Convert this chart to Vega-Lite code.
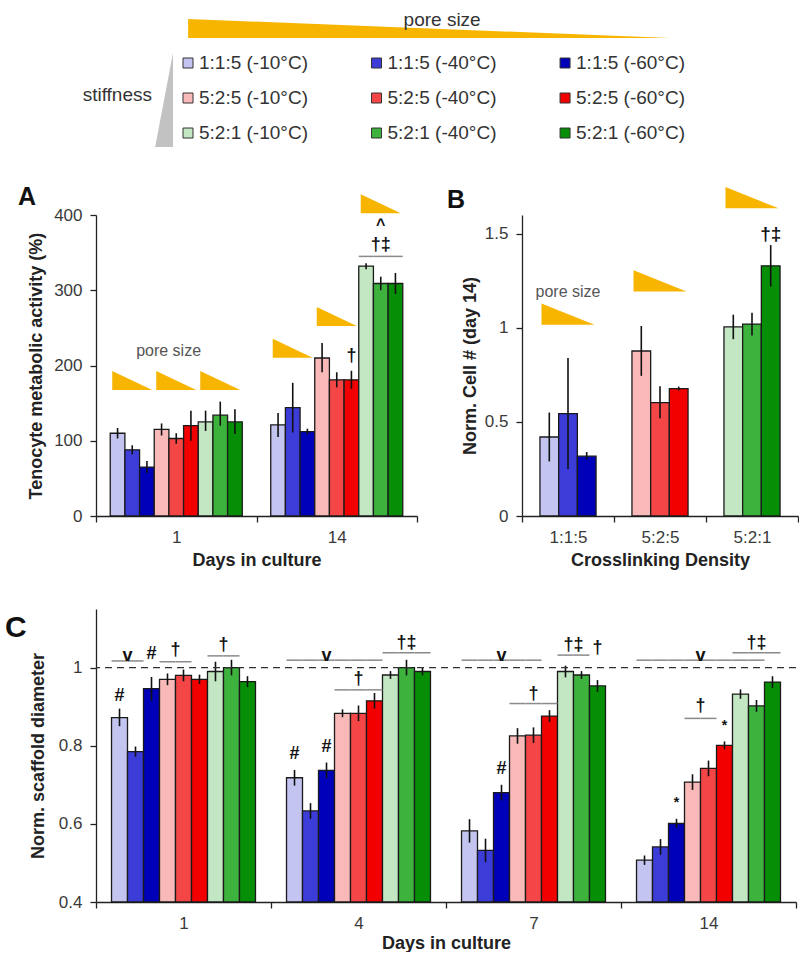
{
"$schema": "https://vega.github.io/schema/vega-lite/v6.json",
"padding": {"left": 5, "top": 0, "right": 0, "bottom": 0},
"background": "white",
"bounds": "flush",
"spacing": 90,
"config": {
  "view": {"stroke": null},
  "font": "Liberation Sans",
  "axis": {"domainColor": "#222", "domainWidth": 1.3, "tickColor": "#222", "tickWidth": 1.3, "tickSize": 6, "labelFont": "Liberation Sans", "labelFontSize": 17, "labelColor": "#3a3a3a", "titleFont": "Liberation Sans", "titleFontSize": 18, "titleFontWeight": "bold", "titleColor": "#222", "grid": false},
  "title": {"anchor": "start", "frame": "group", "offset": 0, "font": "Liberation Sans", "fontWeight": "bold", "color": "#111", "fontSize": 25}
},
"datasets": {
  "legend": [
    {"cond": "1:1:5 (-10°C)", "pore": 0, "stiff": 0},
    {"cond": "1:1:5 (-40°C)", "pore": 1, "stiff": 0},
    {"cond": "1:1:5 (-60°C)", "pore": 2, "stiff": 0},
    {"cond": "5:2:5 (-10°C)", "pore": 0, "stiff": 1},
    {"cond": "5:2:5 (-40°C)", "pore": 1, "stiff": 1},
    {"cond": "5:2:5 (-60°C)", "pore": 2, "stiff": 1},
    {"cond": "5:2:1 (-10°C)", "pore": 0, "stiff": 2},
    {"cond": "5:2:1 (-40°C)", "pore": 1, "stiff": 2},
    {"cond": "5:2:1 (-60°C)", "pore": 2, "stiff": 2}
  ],
  "A": [
    {"day": "1", "cond": "1:1:5 (-10°C)", "mean": 110, "lo": 103, "hi": 117},
    {"day": "1", "cond": "1:1:5 (-40°C)", "mean": 88, "lo": 82, "hi": 94},
    {"day": "1", "cond": "1:1:5 (-60°C)", "mean": 65, "lo": 57, "hi": 73},
    {"day": "1", "cond": "5:2:5 (-10°C)", "mean": 115, "lo": 107, "hi": 123},
    {"day": "1", "cond": "5:2:5 (-40°C)", "mean": 103, "lo": 96, "hi": 110},
    {"day": "1", "cond": "5:2:5 (-60°C)", "mean": 120, "lo": 100, "hi": 140},
    {"day": "1", "cond": "5:2:1 (-10°C)", "mean": 125, "lo": 113, "hi": 140},
    {"day": "1", "cond": "5:2:1 (-40°C)", "mean": 134, "lo": 120, "hi": 152},
    {"day": "1", "cond": "5:2:1 (-60°C)", "mean": 125, "lo": 109, "hi": 142},
    {"day": "14", "cond": "1:1:5 (-10°C)", "mean": 121, "lo": 105, "hi": 137},
    {"day": "14", "cond": "1:1:5 (-40°C)", "mean": 144, "lo": 111, "hi": 177},
    {"day": "14", "cond": "1:1:5 (-60°C)", "mean": 112, "lo": 108, "hi": 116},
    {"day": "14", "cond": "5:2:5 (-10°C)", "mean": 210, "lo": 191, "hi": 230},
    {"day": "14", "cond": "5:2:5 (-40°C)", "mean": 181, "lo": 171, "hi": 191},
    {"day": "14", "cond": "5:2:5 (-60°C)", "mean": 181, "lo": 169, "hi": 193},
    {"day": "14", "cond": "5:2:1 (-10°C)", "mean": 332, "lo": 328, "hi": 336},
    {"day": "14", "cond": "5:2:1 (-40°C)", "mean": 309, "lo": 300, "hi": 318},
    {"day": "14", "cond": "5:2:1 (-60°C)", "mean": 309, "lo": 295, "hi": 323}
  ],
  "A_wedges": [
    {"day": "1", "cond": "1:1:5 (-40°C)", "v": 180},
    {"day": "1", "cond": "5:2:5 (-40°C)", "v": 180},
    {"day": "1", "cond": "5:2:1 (-40°C)", "v": 180},
    {"day": "14", "cond": "1:1:5 (-40°C)", "v": 223},
    {"day": "14", "cond": "5:2:5 (-40°C)", "v": 265},
    {"day": "14", "cond": "5:2:1 (-40°C)", "v": 415}
  ],
  "A_brackets": [
    {"day": "14", "conds": ["5:2:1 (-10°C)", "5:2:1 (-40°C)", "5:2:1 (-60°C)"], "v": 345}
  ],
  "A_syms": [
    {"day": "14", "cond": "5:2:5 (-60°C)", "v": 213, "sym": "†"},
    {"day": "14", "cond": "5:2:1 (-40°C)", "v": 360, "sym": "†‡"},
    {"day": "14", "cond": "5:2:1 (-40°C)", "v": 387, "sym": "^"}
  ],
  "A_note": [
    {"day": "1", "cond": "5:2:5 (-10°C)", "v": 219, "note": "pore size"}
  ],
  "B": [
    {"xl": "1:1:5", "temp": "-10°C", "cond": "1:1:5 (-10°C)", "mean": 0.42, "lo": 0.29, "hi": 0.55},
    {"xl": "1:1:5", "temp": "-40°C", "cond": "1:1:5 (-40°C)", "mean": 0.544, "lo": 0.25, "hi": 0.84},
    {"xl": "1:1:5", "temp": "-60°C", "cond": "1:1:5 (-60°C)", "mean": 0.318, "lo": 0.3, "hi": 0.34},
    {"xl": "5:2:5", "temp": "-10°C", "cond": "5:2:5 (-10°C)", "mean": 0.877, "lo": 0.745, "hi": 1.01},
    {"xl": "5:2:5", "temp": "-40°C", "cond": "5:2:5 (-40°C)", "mean": 0.603, "lo": 0.52, "hi": 0.69},
    {"xl": "5:2:5", "temp": "-60°C", "cond": "5:2:5 (-60°C)", "mean": 0.677, "lo": 0.667, "hi": 0.688},
    {"xl": "5:2:1", "temp": "-10°C", "cond": "5:2:1 (-10°C)", "mean": 1.005, "lo": 0.94, "hi": 1.07},
    {"xl": "5:2:1", "temp": "-40°C", "cond": "5:2:1 (-40°C)", "mean": 1.02, "lo": 0.96, "hi": 1.08},
    {"xl": "5:2:1", "temp": "-60°C", "cond": "5:2:1 (-60°C)", "mean": 1.33, "lo": 1.22, "hi": 1.44}
  ],
  "B_wedges": [
    {"xl": "1:1:5", "temp": "-40°C", "v": 1.073},
    {"xl": "5:2:5", "temp": "-40°C", "v": 1.25},
    {"xl": "5:2:1", "temp": "-40°C", "v": 1.692}
  ],
  "B_syms": [
    {"xl": "5:2:1", "temp": "-60°C", "v": 1.5, "sym": "†‡"}
  ],
  "B_note": [
    {"xl": "1:1:5", "temp": "-40°C", "v": 1.19, "note": "pore size"}
  ],
  "C": [
    {"day": "1", "cond": "1:1:5 (-10°C)", "mean": 0.872, "lo": 0.85, "hi": 0.895},
    {"day": "1", "cond": "1:1:5 (-40°C)", "mean": 0.785, "lo": 0.772, "hi": 0.798},
    {"day": "1", "cond": "1:1:5 (-60°C)", "mean": 0.946, "lo": 0.915, "hi": 0.976},
    {"day": "1", "cond": "5:2:5 (-10°C)", "mean": 0.97, "lo": 0.955, "hi": 0.985},
    {"day": "1", "cond": "5:2:5 (-40°C)", "mean": 0.98, "lo": 0.965, "hi": 0.995},
    {"day": "1", "cond": "5:2:5 (-60°C)", "mean": 0.97, "lo": 0.958, "hi": 0.982},
    {"day": "1", "cond": "5:2:1 (-10°C)", "mean": 0.99, "lo": 0.965, "hi": 1.015},
    {"day": "1", "cond": "5:2:1 (-40°C)", "mean": 1.0, "lo": 0.98, "hi": 1.02},
    {"day": "1", "cond": "5:2:1 (-60°C)", "mean": 0.964, "lo": 0.95, "hi": 0.978},
    {"day": "4", "cond": "1:1:5 (-10°C)", "mean": 0.718, "lo": 0.698, "hi": 0.738},
    {"day": "4", "cond": "1:1:5 (-40°C)", "mean": 0.633, "lo": 0.613, "hi": 0.653},
    {"day": "4", "cond": "1:1:5 (-60°C)", "mean": 0.737, "lo": 0.717, "hi": 0.757},
    {"day": "4", "cond": "5:2:5 (-10°C)", "mean": 0.883, "lo": 0.873, "hi": 0.893},
    {"day": "4", "cond": "5:2:5 (-40°C)", "mean": 0.883, "lo": 0.863, "hi": 0.903},
    {"day": "4", "cond": "5:2:5 (-60°C)", "mean": 0.915, "lo": 0.895, "hi": 0.935},
    {"day": "4", "cond": "5:2:1 (-10°C)", "mean": 0.981, "lo": 0.971, "hi": 0.991},
    {"day": "4", "cond": "5:2:1 (-40°C)", "mean": 1.0, "lo": 0.98, "hi": 1.02},
    {"day": "4", "cond": "5:2:1 (-60°C)", "mean": 0.99, "lo": 0.98, "hi": 1.0},
    {"day": "7", "cond": "1:1:5 (-10°C)", "mean": 0.582, "lo": 0.552, "hi": 0.612},
    {"day": "7", "cond": "1:1:5 (-40°C)", "mean": 0.532, "lo": 0.502, "hi": 0.562},
    {"day": "7", "cond": "1:1:5 (-60°C)", "mean": 0.68, "lo": 0.66, "hi": 0.7},
    {"day": "7", "cond": "5:2:5 (-10°C)", "mean": 0.825, "lo": 0.805, "hi": 0.845},
    {"day": "7", "cond": "5:2:5 (-40°C)", "mean": 0.827, "lo": 0.807, "hi": 0.847},
    {"day": "7", "cond": "5:2:5 (-60°C)", "mean": 0.876, "lo": 0.861, "hi": 0.891},
    {"day": "7", "cond": "5:2:1 (-10°C)", "mean": 0.99, "lo": 0.975, "hi": 1.005},
    {"day": "7", "cond": "5:2:1 (-40°C)", "mean": 0.981, "lo": 0.971, "hi": 0.991},
    {"day": "7", "cond": "5:2:1 (-60°C)", "mean": 0.953, "lo": 0.938, "hi": 0.968},
    {"day": "14", "cond": "1:1:5 (-10°C)", "mean": 0.507, "lo": 0.495, "hi": 0.519},
    {"day": "14", "cond": "1:1:5 (-40°C)", "mean": 0.541, "lo": 0.521, "hi": 0.561},
    {"day": "14", "cond": "1:1:5 (-60°C)", "mean": 0.601, "lo": 0.589, "hi": 0.613},
    {"day": "14", "cond": "5:2:5 (-10°C)", "mean": 0.707, "lo": 0.687, "hi": 0.727},
    {"day": "14", "cond": "5:2:5 (-40°C)", "mean": 0.742, "lo": 0.722, "hi": 0.762},
    {"day": "14", "cond": "5:2:5 (-60°C)", "mean": 0.801, "lo": 0.791, "hi": 0.811},
    {"day": "14", "cond": "5:2:1 (-10°C)", "mean": 0.932, "lo": 0.92, "hi": 0.944},
    {"day": "14", "cond": "5:2:1 (-40°C)", "mean": 0.902, "lo": 0.887, "hi": 0.917},
    {"day": "14", "cond": "5:2:1 (-60°C)", "mean": 0.963, "lo": 0.948, "hi": 0.978}
  ],
  "C_brackets": [
    {"day": "1", "conds": ["1:1:5 (-10°C)", "1:1:5 (-40°C)"], "v": 1.017},
    {"day": "1", "conds": ["5:2:5 (-10°C)", "5:2:5 (-40°C)"], "v": 1.015},
    {"day": "1", "conds": ["5:2:1 (-10°C)", "5:2:1 (-40°C)"], "v": 1.03},
    {"day": "4", "conds": ["1:1:5 (-10°C)", "1:1:5 (-40°C)", "1:1:5 (-60°C)", "5:2:5 (-10°C)", "5:2:5 (-40°C)", "5:2:5 (-60°C)"], "v": 1.019},
    {"day": "4", "conds": ["5:2:5 (-10°C)", "5:2:5 (-40°C)", "5:2:5 (-60°C)"], "v": 0.943},
    {"day": "4", "conds": ["5:2:1 (-10°C)", "5:2:1 (-40°C)", "5:2:1 (-60°C)"], "v": 1.038},
    {"day": "7", "conds": ["1:1:5 (-10°C)", "1:1:5 (-40°C)", "1:1:5 (-60°C)", "5:2:5 (-10°C)", "5:2:5 (-40°C)"], "v": 1.019},
    {"day": "7", "conds": ["5:2:5 (-10°C)", "5:2:5 (-40°C)", "5:2:5 (-60°C)"], "v": 0.908},
    {"day": "7", "conds": ["5:2:1 (-10°C)", "5:2:1 (-40°C)"], "v": 1.032},
    {"day": "14", "conds": ["1:1:5 (-10°C)", "1:1:5 (-40°C)", "1:1:5 (-60°C)", "5:2:5 (-10°C)", "5:2:5 (-40°C)", "5:2:5 (-60°C)", "5:2:1 (-10°C)", "5:2:1 (-40°C)"], "v": 1.019},
    {"day": "14", "conds": ["5:2:5 (-10°C)", "5:2:5 (-40°C)"], "v": 0.87},
    {"day": "14", "conds": ["5:2:1 (-10°C)", "5:2:1 (-40°C)", "5:2:1 (-60°C)"], "v": 1.038}
  ],
  "C_syms": [
    {"day": "1", "cond": "1:1:5 (-10°C)", "v": 0.927, "sym": "#", "between": false},
    {"day": "1", "cond": "1:1:5 (-10°C)", "v": 1.03, "sym": "v", "between": true},
    {"day": "1", "cond": "1:1:5 (-60°C)", "v": 1.036, "sym": "#", "between": false},
    {"day": "1", "cond": "5:2:5 (-10°C)", "v": 1.044, "sym": "†", "between": true},
    {"day": "1", "cond": "5:2:1 (-10°C)", "v": 1.058, "sym": "†", "between": true},
    {"day": "4", "cond": "1:1:5 (-10°C)", "v": 0.78, "sym": "#", "between": false},
    {"day": "4", "cond": "1:1:5 (-60°C)", "v": 0.797, "sym": "#", "between": false},
    {"day": "4", "cond": "1:1:5 (-60°C)", "v": 1.03, "sym": "v", "between": false},
    {"day": "4", "cond": "5:2:5 (-40°C)", "v": 0.97, "sym": "†", "between": false},
    {"day": "4", "cond": "5:2:1 (-40°C)", "v": 1.064, "sym": "†‡", "between": false},
    {"day": "7", "cond": "1:1:5 (-60°C)", "v": 1.03, "sym": "v", "between": false},
    {"day": "7", "cond": "1:1:5 (-60°C)", "v": 0.74, "sym": "#", "between": false},
    {"day": "7", "cond": "5:2:5 (-40°C)", "v": 0.933, "sym": "†", "between": false},
    {"day": "7", "cond": "5:2:1 (-10°C)", "v": 1.058, "sym": "†‡", "between": true},
    {"day": "7", "cond": "5:2:1 (-60°C)", "v": 1.051, "sym": "†", "between": false},
    {"day": "14", "cond": "5:2:5 (-10°C)", "v": 1.03, "sym": "v", "between": true},
    {"day": "14", "cond": "1:1:5 (-60°C)", "v": 0.654, "sym": "*", "between": false},
    {"day": "14", "cond": "5:2:5 (-60°C)", "v": 0.851, "sym": "*", "between": false},
    {"day": "14", "cond": "5:2:5 (-10°C)", "v": 0.902, "sym": "†", "between": true},
    {"day": "14", "cond": "5:2:1 (-40°C)", "v": 1.064, "sym": "†‡", "between": false}
  ]
},
"vconcat": [
  {
    "width": 690, "height": 125,
    "layer": [
      {"data": {"values": [{"item": "pore size wedge"}]},
       "mark": {"type": "point", "shape": "M-1,-0.0394L1,0.0394L-1,0.0394Z", "filled": true, "opacity": 1, "color": "#f7b500", "size": 232324},
       "encoding": {
         "x": {"datum": 1.279, "type": "quantitative", "scale": {"domain": [-0.488, 3.172], "nice": false, "zero": false}, "axis": null},
         "y": {"datum": -0.986, "type": "quantitative", "scale": {"domain": [-1.8, 1.771], "nice": false, "zero": false, "reverse": true}, "axis": null}}},
      {"data": {"values": [{"item": "pore size label"}]},
       "mark": {"type": "text", "text": "pore size", "fontSize": 19, "color": "#333", "align": "center", "baseline": "middle"},
       "encoding": {
         "x": {"datum": 1.348, "type": "quantitative", "scale": {"domain": [-0.488, 3.172], "nice": false, "zero": false}, "axis": null},
         "y": {"datum": -1.229, "type": "quantitative", "scale": {"domain": [-1.8, 1.771], "nice": false, "zero": false, "reverse": true}, "axis": null}}},
      {"data": {"values": [{"item": "stiffness wedge"}]},
       "mark": {"type": "point", "shape": "M0.19,-1L0.19,1L-0.19,1Z", "filled": true, "opacity": 1, "color": "#c2c2c2", "size": 8836},
       "encoding": {
         "x": {"datum": -0.127, "type": "quantitative", "scale": {"domain": [-0.488, 3.172], "nice": false, "zero": false}, "axis": null},
         "y": {"datum": 1.057, "type": "quantitative", "scale": {"domain": [-1.8, 1.771], "nice": false, "zero": false, "reverse": true}, "axis": null}}},
      {"data": {"values": [{"item": "stiffness label"}]},
       "mark": {"type": "text", "text": "stiffness", "fontSize": 19, "color": "#333", "align": "right", "baseline": "middle"},
       "encoding": {
         "x": {"datum": -0.191, "type": "quantitative", "scale": {"domain": [-0.488, 3.172], "nice": false, "zero": false}, "axis": null},
         "y": {"datum": 0.914, "type": "quantitative", "scale": {"domain": [-1.8, 1.771], "nice": false, "zero": false, "reverse": true}, "axis": null}}},
      {"data": {"name": "legend"},
       "mark": {"type": "point", "shape": "square", "filled": true, "opacity": 1, "size": 100, "stroke": "#333", "strokeWidth": 1},
       "encoding": {
         "x": {"field": "pore", "type": "quantitative", "scale": {"domain": [-0.488, 3.172], "nice": false, "zero": false}, "axis": null},
         "y": {"field": "stiff", "type": "quantitative", "scale": {"domain": [-1.8, 1.771], "nice": false, "zero": false, "reverse": true}, "axis": null},
         "color": {"field": "cond", "type": "nominal", "scale": {"domain": ["1:1:5 (-10°C)", "1:1:5 (-40°C)", "1:1:5 (-60°C)", "5:2:5 (-10°C)", "5:2:5 (-40°C)", "5:2:5 (-60°C)", "5:2:1 (-10°C)", "5:2:1 (-40°C)", "5:2:1 (-60°C)"], "range": ["#c4c4f0", "#3c3cd8", "#0000b8", "#f9b9b9", "#f44646", "#f20000", "#c3e6c3", "#3db23d", "#068f06"]}, "legend": null}}},
      {"data": {"name": "legend"},
       "mark": {"type": "text", "fontSize": 19, "color": "#333", "align": "left", "baseline": "middle", "dx": 11},
       "encoding": {
         "x": {"field": "pore", "type": "quantitative", "scale": {"domain": [-0.488, 3.172], "nice": false, "zero": false}, "axis": null},
         "y": {"field": "stiff", "type": "quantitative", "scale": {"domain": [-1.8, 1.771], "nice": false, "zero": false, "reverse": true}, "axis": null},
         "text": {"field": "cond"}}}
    ]
  },
  {
    "spacing": 40,
    "resolve": {"scale": {"xOffset": "independent"}},
    "vconcat": [
      {
        "bounds": "flush",
        "spacing": 105,
        "resolve": {"scale": {"xOffset": "independent"}},
        "hconcat": [
          {
            "width": 321, "height": 301,
            "title": {"text": "A", "dx": -78, "dy": 20},
            "layer": [
              {"data": {"name": "A"},
               "mark": {"type": "bar", "stroke": "#1a1a1a", "strokeWidth": 1.3},
               "encoding": {
                 "x": {"field": "day", "type": "nominal", "scale": {"domain": ["1", "14"], "paddingInner": 0, "paddingOuter": 0}, "axis": {"title": "Days in culture", "labelAngle": 0, "tickBand": "extent", "labelPadding": 7, "titlePadding": 6}},
                 "xOffset": {"field": "cond", "type": "nominal", "scale": {"domain": ["1:1:5 (-10°C)", "1:1:5 (-40°C)", "1:1:5 (-60°C)", "5:2:5 (-10°C)", "5:2:5 (-40°C)", "5:2:5 (-60°C)", "5:2:1 (-10°C)", "5:2:1 (-40°C)", "5:2:1 (-60°C)"], "paddingInner": 0, "paddingOuter": 0.97}},
                 "y": {"field": "mean", "type": "quantitative", "scale": {"domain": [0, 400], "nice": false}, "axis": {"values": [0, 100, 200, 300, 400], "title": "Tenocyte metabolic activity (%)", "titlePadding": 8, "labelPadding": 8}},
                 "color": {"field": "cond", "type": "nominal", "scale": {"domain": ["1:1:5 (-10°C)", "1:1:5 (-40°C)", "1:1:5 (-60°C)", "5:2:5 (-10°C)", "5:2:5 (-40°C)", "5:2:5 (-60°C)", "5:2:1 (-10°C)", "5:2:1 (-40°C)", "5:2:1 (-60°C)"], "range": ["#c4c4f0", "#3c3cd8", "#0000b8", "#f9b9b9", "#f44646", "#f20000", "#c3e6c3", "#3db23d", "#068f06"]}, "legend": null}}},
              {"data": {"name": "A"},
               "mark": {"type": "rule", "color": "#111", "strokeWidth": 1.6},
               "encoding": {
                 "x": {"field": "day", "type": "nominal", "scale": {"domain": ["1", "14"], "paddingInner": 0, "paddingOuter": 0}},
                 "xOffset": {"field": "cond", "type": "nominal", "scale": {"domain": ["1:1:5 (-10°C)", "1:1:5 (-40°C)", "1:1:5 (-60°C)", "5:2:5 (-10°C)", "5:2:5 (-40°C)", "5:2:5 (-60°C)", "5:2:1 (-10°C)", "5:2:1 (-40°C)", "5:2:1 (-60°C)"], "paddingInner": 0, "paddingOuter": 0.97}},
                 "y": {"field": "lo", "type": "quantitative", "scale": {"domain": [0, 400], "nice": false}},
                 "y2": {"field": "hi"}}},
              {"data": {"name": "A_wedges"},
               "mark": {"type": "point", "shape": "M-1,-0.475L1,0.475L-1,0.475Z", "filled": true, "opacity": 1, "color": "#f7b500", "size": 1600},
               "encoding": {
                 "x": {"field": "day", "type": "nominal", "scale": {"domain": ["1", "14"], "paddingInner": 0, "paddingOuter": 0}},
                 "xOffset": {"field": "cond", "type": "nominal", "scale": {"domain": ["1:1:5 (-10°C)", "1:1:5 (-40°C)", "1:1:5 (-60°C)", "5:2:5 (-10°C)", "5:2:5 (-40°C)", "5:2:5 (-60°C)", "5:2:1 (-10°C)", "5:2:1 (-40°C)", "5:2:1 (-60°C)"], "paddingInner": 0, "paddingOuter": 0.97}},
                 "y": {"field": "v", "type": "quantitative", "scale": {"domain": [0, 400], "nice": false}}}},
              {"data": {"name": "A_brackets"},
               "transform": [{"flatten": ["conds"], "as": ["cond"]}],
               "mark": {"type": "tick", "orient": "horizontal", "size": 14.7, "thickness": 1.5, "color": "#8a8a8a", "opacity": 1},
               "encoding": {
                 "x": {"field": "day", "type": "nominal", "scale": {"domain": ["1", "14"], "paddingInner": 0, "paddingOuter": 0}},
                 "xOffset": {"field": "cond", "type": "nominal", "scale": {"domain": ["1:1:5 (-10°C)", "1:1:5 (-40°C)", "1:1:5 (-60°C)", "5:2:5 (-10°C)", "5:2:5 (-40°C)", "5:2:5 (-60°C)", "5:2:1 (-10°C)", "5:2:1 (-40°C)", "5:2:1 (-60°C)"], "paddingInner": 0, "paddingOuter": 0.97}},
                 "y": {"field": "v", "type": "quantitative", "scale": {"domain": [0, 400], "nice": false}}}},
              {"data": {"name": "A_syms"},
               "transform": [{"filter": "datum.sym !== '^'"}],
               "mark": {"type": "text", "fontWeight": "bold", "fontSize": 18, "color": "#111", "baseline": "middle", "align": "center"},
               "encoding": {
                 "x": {"field": "day", "type": "nominal", "scale": {"domain": ["1", "14"], "paddingInner": 0, "paddingOuter": 0}},
                 "xOffset": {"field": "cond", "type": "nominal", "scale": {"domain": ["1:1:5 (-10°C)", "1:1:5 (-40°C)", "1:1:5 (-60°C)", "5:2:5 (-10°C)", "5:2:5 (-40°C)", "5:2:5 (-60°C)", "5:2:1 (-10°C)", "5:2:1 (-40°C)", "5:2:1 (-60°C)"], "paddingInner": 0, "paddingOuter": 0.97}},
                 "y": {"field": "v", "type": "quantitative", "scale": {"domain": [0, 400], "nice": false}},
                 "text": {"field": "sym"}}},
              {"data": {"name": "A_syms"},
               "transform": [{"filter": "datum.sym === '^'"}],
               "mark": {"type": "text", "fontWeight": "bold", "fontSize": 16, "color": "#111", "baseline": "middle", "align": "center"},
               "encoding": {
                 "x": {"field": "day", "type": "nominal", "scale": {"domain": ["1", "14"], "paddingInner": 0, "paddingOuter": 0}},
                 "xOffset": {"field": "cond", "type": "nominal", "scale": {"domain": ["1:1:5 (-10°C)", "1:1:5 (-40°C)", "1:1:5 (-60°C)", "5:2:5 (-10°C)", "5:2:5 (-40°C)", "5:2:5 (-60°C)", "5:2:1 (-10°C)", "5:2:1 (-40°C)", "5:2:1 (-60°C)"], "paddingInner": 0, "paddingOuter": 0.97}},
                 "y": {"field": "v", "type": "quantitative", "scale": {"domain": [0, 400], "nice": false}},
                 "text": {"field": "sym"}}},
              {"data": {"name": "A_note"},
               "mark": {"type": "text", "fontSize": 16, "color": "#555", "baseline": "middle", "align": "center", "dx": 7},
               "encoding": {
                 "x": {"field": "day", "type": "nominal", "scale": {"domain": ["1", "14"], "paddingInner": 0, "paddingOuter": 0}},
                 "xOffset": {"field": "cond", "type": "nominal", "scale": {"domain": ["1:1:5 (-10°C)", "1:1:5 (-40°C)", "1:1:5 (-60°C)", "5:2:5 (-10°C)", "5:2:5 (-40°C)", "5:2:5 (-60°C)", "5:2:1 (-10°C)", "5:2:1 (-40°C)", "5:2:1 (-60°C)"], "paddingInner": 0, "paddingOuter": 0.97}},
                 "y": {"field": "v", "type": "quantitative", "scale": {"domain": [0, 400], "nice": false}},
                 "text": {"field": "note"}}}
            ]
          },
          {
            "width": 276, "height": 301,
            "title": {"text": "B", "dx": -75, "dy": 30},
            "layer": [
              {"data": {"name": "B"},
               "mark": {"type": "bar", "stroke": "#1a1a1a", "strokeWidth": 1.3},
               "encoding": {
                 "x": {"field": "xl", "type": "nominal", "scale": {"domain": ["1:1:5", "5:2:5", "5:2:1"], "paddingInner": 0, "paddingOuter": 0}, "axis": {"title": "Crosslinking Density", "labelAngle": 0, "tickBand": "extent", "labelPadding": 7, "titlePadding": 6}},
                 "xOffset": {"field": "temp", "type": "nominal", "scale": {"domain": ["-10°C", "-40°C", "-60°C"], "paddingInner": 0, "paddingOuter": 0.96}},
                 "y": {"field": "mean", "type": "quantitative", "scale": {"domain": [0, 1.6], "nice": false}, "axis": {"values": [0, 0.5, 1, 1.5], "format": "~g", "title": "Norm. Cell # (day 14)", "titlePadding": 5, "labelPadding": 8}},
                 "color": {"field": "cond", "type": "nominal", "scale": {"domain": ["1:1:5 (-10°C)", "1:1:5 (-40°C)", "1:1:5 (-60°C)", "5:2:5 (-10°C)", "5:2:5 (-40°C)", "5:2:5 (-60°C)", "5:2:1 (-10°C)", "5:2:1 (-40°C)", "5:2:1 (-60°C)"], "range": ["#c4c4f0", "#3c3cd8", "#0000b8", "#f9b9b9", "#f44646", "#f20000", "#c3e6c3", "#3db23d", "#068f06"]}, "legend": null}}},
              {"data": {"name": "B"},
               "mark": {"type": "rule", "color": "#111", "strokeWidth": 1.6},
               "encoding": {
                 "x": {"field": "xl", "type": "nominal", "scale": {"domain": ["1:1:5", "5:2:5", "5:2:1"], "paddingInner": 0, "paddingOuter": 0}},
                 "xOffset": {"field": "temp", "type": "nominal", "scale": {"domain": ["-10°C", "-40°C", "-60°C"], "paddingInner": 0, "paddingOuter": 0.96}},
                 "y": {"field": "lo", "type": "quantitative", "scale": {"domain": [0, 1.6], "nice": false}},
                 "y2": {"field": "hi"}}},
              {"data": {"name": "B_wedges"},
               "mark": {"type": "point", "shape": "M-1,-0.4L1,0.4L-1,0.4Z", "filled": true, "opacity": 1, "color": "#f7b500", "size": 2809},
               "encoding": {
                 "x": {"field": "xl", "type": "nominal", "scale": {"domain": ["1:1:5", "5:2:5", "5:2:1"], "paddingInner": 0, "paddingOuter": 0}},
                 "xOffset": {"field": "temp", "type": "nominal", "scale": {"domain": ["-10°C", "-40°C", "-60°C"], "paddingInner": 0, "paddingOuter": 0.96}},
                 "y": {"field": "v", "type": "quantitative", "scale": {"domain": [0, 1.6], "nice": false}}}},
              {"data": {"name": "B_syms"},
               "mark": {"type": "text", "fontWeight": "bold", "fontSize": 19, "color": "#111", "baseline": "middle", "align": "center"},
               "encoding": {
                 "x": {"field": "xl", "type": "nominal", "scale": {"domain": ["1:1:5", "5:2:5", "5:2:1"], "paddingInner": 0, "paddingOuter": 0}},
                 "xOffset": {"field": "temp", "type": "nominal", "scale": {"domain": ["-10°C", "-40°C", "-60°C"], "paddingInner": 0, "paddingOuter": 0.96}},
                 "y": {"field": "v", "type": "quantitative", "scale": {"domain": [0, 1.6], "nice": false}},
                 "text": {"field": "sym"}}},
              {"data": {"name": "B_note"},
               "mark": {"type": "text", "fontSize": 16, "color": "#555", "baseline": "middle", "align": "center"},
               "encoding": {
                 "x": {"field": "xl", "type": "nominal", "scale": {"domain": ["1:1:5", "5:2:5", "5:2:1"], "paddingInner": 0, "paddingOuter": 0}},
                 "xOffset": {"field": "temp", "type": "nominal", "scale": {"domain": ["-10°C", "-40°C", "-60°C"], "paddingInner": 0, "paddingOuter": 0.96}},
                 "y": {"field": "v", "type": "quantitative", "scale": {"domain": [0, 1.6], "nice": false}},
                 "text": {"field": "note"}}}
            ]
          }
        ]
      },
      {
        "width": 700, "height": 293,
        "title": {"text": "C", "dx": -91, "dy": 38, "fontSize": 30},
        "layer": [
          {"data": {"name": "C"},
           "mark": {"type": "bar", "stroke": "#1a1a1a", "strokeWidth": 1.3},
           "encoding": {
             "x": {"field": "day", "type": "nominal", "scale": {"domain": ["1", "4", "7", "14"], "paddingInner": 0, "paddingOuter": 0}, "axis": {"title": "Days in culture", "labelAngle": 0, "tickBand": "extent", "labelPadding": 7, "titlePadding": 3}},
             "xOffset": {"field": "cond", "type": "nominal", "scale": {"domain": ["1:1:5 (-10°C)", "1:1:5 (-40°C)", "1:1:5 (-60°C)", "5:2:5 (-10°C)", "5:2:5 (-40°C)", "5:2:5 (-60°C)", "5:2:1 (-10°C)", "5:2:1 (-40°C)", "5:2:1 (-60°C)"], "paddingInner": 0, "paddingOuter": 0.97}},
             "y": {"field": "mean", "type": "quantitative", "scale": {"domain": [0.4, 1.15], "nice": false, "zero": false}, "axis": {"values": [0.4, 0.6, 0.8, 1], "format": "~g", "title": "Norm. scaffold diameter", "titlePadding": 11, "labelPadding": 8}},
             "y2": {"datum": 0.4},
             "color": {"field": "cond", "type": "nominal", "scale": {"domain": ["1:1:5 (-10°C)", "1:1:5 (-40°C)", "1:1:5 (-60°C)", "5:2:5 (-10°C)", "5:2:5 (-40°C)", "5:2:5 (-60°C)", "5:2:1 (-10°C)", "5:2:1 (-40°C)", "5:2:1 (-60°C)"], "range": ["#c4c4f0", "#3c3cd8", "#0000b8", "#f9b9b9", "#f44646", "#f20000", "#c3e6c3", "#3db23d", "#068f06"]}, "legend": null}}},
          {"data": {"name": "C"},
           "mark": {"type": "rule", "color": "#111", "strokeWidth": 1.6},
           "encoding": {
             "x": {"field": "day", "type": "nominal", "scale": {"domain": ["1", "4", "7", "14"], "paddingInner": 0, "paddingOuter": 0}},
             "xOffset": {"field": "cond", "type": "nominal", "scale": {"domain": ["1:1:5 (-10°C)", "1:1:5 (-40°C)", "1:1:5 (-60°C)", "5:2:5 (-10°C)", "5:2:5 (-40°C)", "5:2:5 (-60°C)", "5:2:1 (-10°C)", "5:2:1 (-40°C)", "5:2:1 (-60°C)"], "paddingInner": 0, "paddingOuter": 0.97}},
             "y": {"field": "lo", "type": "quantitative", "scale": {"domain": [0.4, 1.15], "nice": false, "zero": false}},
             "y2": {"field": "hi"}}},
          {"data": {"values": [{"ref": "baseline"}]},
           "mark": {"type": "rule", "color": "#333", "strokeWidth": 1.4, "strokeDash": [7, 5]},
           "encoding": {
             "y": {"datum": 1, "type": "quantitative", "scale": {"domain": [0.4, 1.15], "nice": false, "zero": false}}}},
          {"data": {"name": "C_brackets"},
           "transform": [{"flatten": ["conds"], "as": ["cond"]}],
           "mark": {"type": "tick", "orient": "horizontal", "size": 16, "thickness": 1.5, "color": "#8a8a8a", "opacity": 1},
           "encoding": {
             "x": {"field": "day", "type": "nominal", "scale": {"domain": ["1", "4", "7", "14"], "paddingInner": 0, "paddingOuter": 0}},
             "xOffset": {"field": "cond", "type": "nominal", "scale": {"domain": ["1:1:5 (-10°C)", "1:1:5 (-40°C)", "1:1:5 (-60°C)", "5:2:5 (-10°C)", "5:2:5 (-40°C)", "5:2:5 (-60°C)", "5:2:1 (-10°C)", "5:2:1 (-40°C)", "5:2:1 (-60°C)"], "paddingInner": 0, "paddingOuter": 0.97}},
             "y": {"field": "v", "type": "quantitative", "scale": {"domain": [0.4, 1.15], "nice": false, "zero": false}}}},
          {"data": {"name": "C_syms"},
           "transform": [{"filter": "!datum.between && datum.sym !== '*'"}],
           "mark": {"type": "text", "fontWeight": "bold", "fontSize": 18, "color": "#111", "baseline": "middle", "align": "center"},
           "encoding": {
             "x": {"field": "day", "type": "nominal", "scale": {"domain": ["1", "4", "7", "14"], "paddingInner": 0, "paddingOuter": 0}},
             "xOffset": {"field": "cond", "type": "nominal", "scale": {"domain": ["1:1:5 (-10°C)", "1:1:5 (-40°C)", "1:1:5 (-60°C)", "5:2:5 (-10°C)", "5:2:5 (-40°C)", "5:2:5 (-60°C)", "5:2:1 (-10°C)", "5:2:1 (-40°C)", "5:2:1 (-60°C)"], "paddingInner": 0, "paddingOuter": 0.97}},
             "y": {"field": "v", "type": "quantitative", "scale": {"domain": [0.4, 1.15], "nice": false, "zero": false}},
             "text": {"field": "sym"}}},
          {"data": {"name": "C_syms"},
           "transform": [{"filter": "datum.sym === '*'"}],
           "mark": {"type": "text", "fontWeight": "bold", "fontSize": 14, "color": "#111", "baseline": "middle", "align": "center"},
           "encoding": {
             "x": {"field": "day", "type": "nominal", "scale": {"domain": ["1", "4", "7", "14"], "paddingInner": 0, "paddingOuter": 0}},
             "xOffset": {"field": "cond", "type": "nominal", "scale": {"domain": ["1:1:5 (-10°C)", "1:1:5 (-40°C)", "1:1:5 (-60°C)", "5:2:5 (-10°C)", "5:2:5 (-40°C)", "5:2:5 (-60°C)", "5:2:1 (-10°C)", "5:2:1 (-40°C)", "5:2:1 (-60°C)"], "paddingInner": 0, "paddingOuter": 0.97}},
             "y": {"field": "v", "type": "quantitative", "scale": {"domain": [0.4, 1.15], "nice": false, "zero": false}},
             "text": {"field": "sym"}}},
          {"data": {"name": "C_syms"},
           "transform": [{"filter": "datum.between"}],
           "mark": {"type": "text", "fontWeight": "bold", "fontSize": 18, "color": "#111", "baseline": "middle", "align": "center", "dx": 8},
           "encoding": {
             "x": {"field": "day", "type": "nominal", "scale": {"domain": ["1", "4", "7", "14"], "paddingInner": 0, "paddingOuter": 0}},
             "xOffset": {"field": "cond", "type": "nominal", "scale": {"domain": ["1:1:5 (-10°C)", "1:1:5 (-40°C)", "1:1:5 (-60°C)", "5:2:5 (-10°C)", "5:2:5 (-40°C)", "5:2:5 (-60°C)", "5:2:1 (-10°C)", "5:2:1 (-40°C)", "5:2:1 (-60°C)"], "paddingInner": 0, "paddingOuter": 0.97}},
             "y": {"field": "v", "type": "quantitative", "scale": {"domain": [0.4, 1.15], "nice": false, "zero": false}},
             "text": {"field": "sym"}}}
        ]
      }
    ]
  }
]
}
